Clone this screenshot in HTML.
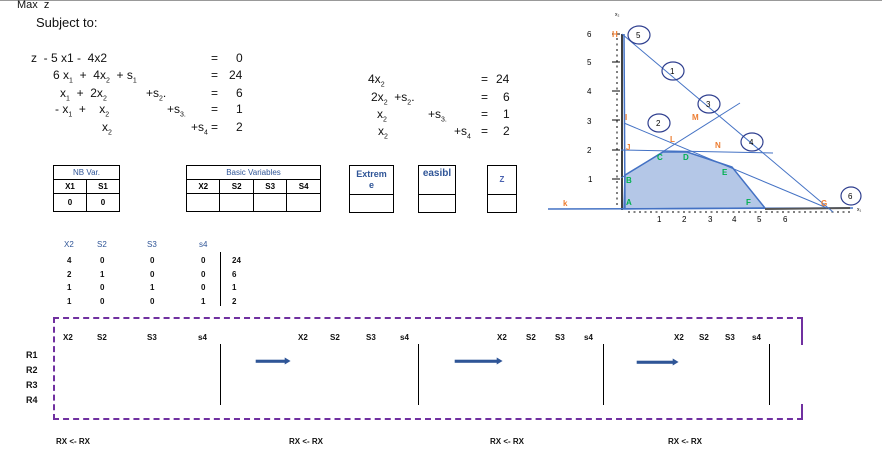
<!DOCTYPE html>
<html><head><meta charset="utf-8"><style>
body{margin:0;width:882px;height:457px;position:relative;background:#fff;font-family:"Liberation Sans",Calibri,sans-serif;overflow:hidden}
.a{position:absolute;white-space:nowrap}
.eq{font-size:12px;color:#111}
.b{font-size:8px;font-weight:bold;color:#111}
.bl{color:#2f5597}
sub{font-size:7px}
table{position:absolute;border-collapse:collapse}
td{border:1px solid #000;text-align:center;font-size:8px;font-weight:bold;padding:0;height:13px;line-height:10px}
</style></head><body>
<div class="a" style="left:0;top:0;width:882px;height:1px;background:#999"></div>
<div class="a eq" style="left:17px;top:1px;font-size:11px;line-height:9px">Max &nbsp;z</div>
<div class="a eq" style="left:36px;top:15px;font-size:13px">Subject to:</div>

<div class="a eq" style="left:31px;top:51px">z &nbsp;- 5 x1 - &nbsp;4x2</div>
<div class="a eq" style="left:53px;top:68px">6 x<sub>1</sub> &nbsp;+ &nbsp;4x<sub>2</sub> &nbsp;+ s<sub>1</sub></div>
<div class="a eq" style="left:60px;top:86px">x<sub>1</sub> &nbsp;+ &nbsp;2x<sub>2</sub></div>
<div class="a eq" style="left:146px;top:86px">+s<sub>2</sub>.</div>
<div class="a eq" style="left:55px;top:102px">- x<sub>1</sub> &nbsp;+ &nbsp;&nbsp;&nbsp;x<sub>2</sub></div>
<div class="a eq" style="left:167px;top:102px">+s<sub>3.</sub></div>
<div class="a eq" style="left:102px;top:120px">x<sub>2</sub></div>
<div class="a eq" style="left:191px;top:120px">+s<sub>4</sub></div>
<div class="a eq" style="left:211px;top:51px">=</div><div class="a eq" style="left:236px;top:51px">0</div>
<div class="a eq" style="left:211px;top:68px">=</div><div class="a eq" style="left:229px;top:68px">24</div>
<div class="a eq" style="left:211px;top:86px">=</div><div class="a eq" style="left:236px;top:86px">6</div>
<div class="a eq" style="left:211px;top:102px">=</div><div class="a eq" style="left:236px;top:102px">1</div>
<div class="a eq" style="left:211px;top:120px">=</div><div class="a eq" style="left:236px;top:120px">2</div>

<div class="a eq" style="left:368px;top:72px">4x<sub>2</sub></div>
<div class="a eq" style="left:371px;top:90px">2x<sub>2</sub> &nbsp;+s<sub>2</sub>.</div>
<div class="a eq" style="left:377px;top:107px">x<sub>2</sub></div>
<div class="a eq" style="left:428px;top:107px">+s<sub>3.</sub></div>
<div class="a eq" style="left:378px;top:124px">x<sub>2</sub></div>
<div class="a eq" style="left:454px;top:124px">+s<sub>4</sub></div>
<div class="a eq" style="left:481px;top:72px">=</div><div class="a eq" style="left:496px;top:72px">24</div>
<div class="a eq" style="left:481px;top:90px">=</div><div class="a eq" style="left:503px;top:90px">6</div>
<div class="a eq" style="left:481px;top:107px">=</div><div class="a eq" style="left:503px;top:107px">1</div>
<div class="a eq" style="left:481px;top:124px">=</div><div class="a eq" style="left:503px;top:124px">2</div>

<table style="left:53px;top:165px;width:67px"><tr><td colspan="2" class="bl" style="font-weight:normal">NB Var.</td></tr><tr><td>X1</td><td>S1</td></tr><tr><td style="height:17px">0</td><td>0</td></tr></table>
<table style="left:186px;top:165px;width:135px"><tr><td colspan="4" class="bl" style="font-weight:normal">Basic Variables</td></tr><tr><td>X2</td><td>S2</td><td>S3</td><td>S4</td></tr><tr><td style="height:17px"></td><td></td><td></td><td></td></tr></table>
<table style="left:349px;top:165px;width:45px"><tr><td class="bl" style="height:28px;font-size:9px;line-height:11px">Extrem<br>e</td></tr><tr><td style="height:17px"></td></tr></table>
<table style="left:418px;top:165px;width:38px"><tr><td class="bl" style="height:28px;font-size:10px;vertical-align:top;line-height:16px">easibl</td></tr><tr><td style="height:17px"></td></tr></table>
<table style="left:487px;top:165px;width:30px"><tr><td class="bl" style="height:28px;font-size:8px;color:#4a62b0">Z</td></tr><tr><td style="height:17px"></td></tr></table>

<div class="a b bl" style="left:64px;top:240px;font-weight:normal">X2</div>
<div class="a b bl" style="left:97px;top:240px;font-weight:normal">S2</div>
<div class="a b bl" style="left:147px;top:240px;font-weight:normal">S3</div>
<div class="a b bl" style="left:199px;top:240px;font-weight:normal">s4</div>
<div class="a b" style="left:67px;top:254px;line-height:13.5px">4<br>2<br>1<br>1</div>
<div class="a b" style="left:100px;top:254px;line-height:13.5px">0<br>1<br>0<br>0</div>
<div class="a b" style="left:150px;top:254px;line-height:13.5px">0<br>0<br>1<br>0</div>
<div class="a b" style="left:201px;top:254px;line-height:13.5px">0<br>0<br>0<br>1</div>
<div class="a b" style="left:232px;top:254px;line-height:13.5px">24<br>6<br>1<br>2</div>
<div class="a" style="left:220px;top:252px;width:1px;height:54px;background:#000"></div>

<div class="a" style="left:53px;top:317px;width:748px;height:99px;border:2px dashed #7030a0;border-right:none"></div>
<div class="a" style="left:801px;top:317px;width:2px;height:28px;background:#7030a0"></div>
<div class="a" style="left:801px;top:404px;width:2px;height:15px;background:#7030a0"></div>

<div class="a b" style="left:63px;top:333px">X2</div><div class="a b" style="left:97px;top:333px">S2</div><div class="a b" style="left:147px;top:333px">S3</div><div class="a b" style="left:198px;top:333px">s4</div>
<div class="a b" style="left:298px;top:333px">X2</div><div class="a b" style="left:330px;top:333px">S2</div><div class="a b" style="left:366px;top:333px">S3</div><div class="a b" style="left:400px;top:333px">s4</div>
<div class="a b" style="left:497px;top:333px">X2</div><div class="a b" style="left:526px;top:333px">S2</div><div class="a b" style="left:555px;top:333px">S3</div><div class="a b" style="left:584px;top:333px">s4</div>
<div class="a b" style="left:674px;top:333px">X2</div><div class="a b" style="left:699px;top:333px">S2</div><div class="a b" style="left:725px;top:333px">S3</div><div class="a b" style="left:752px;top:333px">s4</div>
<div class="a b" style="left:26px;top:348px;font-size:9px;line-height:15px">R1<br>R2<br>R3<br>R4</div>
<div class="a" style="left:220px;top:344px;width:1px;height:61px;background:#000"></div>
<div class="a" style="left:418px;top:344px;width:1px;height:61px;background:#000"></div>
<div class="a" style="left:603px;top:344px;width:1px;height:61px;background:#000"></div>
<div class="a" style="left:769px;top:344px;width:1px;height:61px;background:#000"></div>
<svg class="a" style="left:0;top:0" width="882" height="457">
<g fill="#2f5597" stroke="#2f5597" stroke-width="0.6">
<rect x="256" y="360" width="29" height="2.5"/><polygon points="285,358 290,361 285,364"/>
<rect x="455" y="360" width="42" height="2.5"/><polygon points="497,358 502,361 497,364"/>
<rect x="637" y="361" width="36" height="2.5"/><polygon points="673,359 678,362 673,365"/>
</g></svg>
<div class="a b" style="left:56px;top:437px">RX &lt;- RX</div>
<div class="a b" style="left:289px;top:437px">RX &lt;- RX</div>
<div class="a b" style="left:490px;top:437px">RX &lt;- RX</div>
<div class="a b" style="left:668px;top:437px">RX &lt;- RX</div>

<svg class="a" style="left:0;top:0" width="882" height="457" font-family="Liberation Sans,sans-serif">
<polygon points="624,209 625,175 663,152 687,152 732,167 765,208" fill="#b4c7e7" stroke="#4472c4" stroke-width="1.5"/>
<line x1="622" y1="34" x2="622" y2="210" stroke="#000" stroke-width="1.5"/>
<line x1="624" y1="34" x2="625" y2="209" stroke="#4472c4" stroke-width="1.5"/>
<g stroke="#000" stroke-width="1">
<line x1="612" y1="34" x2="620" y2="34"/><line x1="612" y1="62" x2="620" y2="62"/><line x1="612" y1="91" x2="620" y2="91"/><line x1="612" y1="120" x2="620" y2="120"/><line x1="612" y1="150" x2="620" y2="150"/><line x1="612" y1="179" x2="620" y2="179"/>
</g>
<g stroke="#000" stroke-width="1" stroke-dasharray="2,3.5"><line x1="617" y1="38" x2="617" y2="205"/><line x1="628" y1="212" x2="850" y2="212"/></g>
<line x1="548" y1="209" x2="853" y2="208" stroke="#4472c4" stroke-width="1.5"/>
<line x1="765" y1="209" x2="850" y2="208" stroke="#555" stroke-width="2"/>
<g stroke="#4472c4" stroke-width="1">
<line x1="622" y1="34" x2="833" y2="212"/>
<line x1="624" y1="123" x2="827" y2="208"/>
<line x1="621" y1="178" x2="740" y2="103"/>
<line x1="621" y1="150" x2="773" y2="153"/>
</g>
<g fill="none" stroke="#2f3f8f" stroke-width="1.2">
<ellipse cx="639" cy="35" rx="11" ry="9"/><ellipse cx="673" cy="71" rx="11" ry="9"/><ellipse cx="709" cy="104" rx="11" ry="9"/><ellipse cx="659" cy="123" rx="11" ry="9"/><ellipse cx="752" cy="142" rx="11" ry="9"/><ellipse cx="851" cy="196" rx="10" ry="9"/>
</g>
<g font-size="8" fill="#000">
<text x="636" y="38">5</text><text x="670" y="74">1</text><text x="706" y="107">3</text><text x="656" y="126">2</text><text x="749" y="145">4</text><text x="848" y="199">6</text>
<text x="587" y="37">6</text><text x="587" y="65">5</text><text x="587" y="94">4</text><text x="587" y="124">3</text><text x="587" y="153">2</text><text x="588" y="182">1</text>
<text x="657" y="222">1</text><text x="682" y="222">2</text><text x="708" y="222">3</text><text x="732" y="222">4</text><text x="757" y="222">5</text><text x="783" y="222">6</text>
<text x="615" y="16" font-size="5">x₂</text><text x="857" y="211" font-size="5">x₁</text>
</g>
<g font-size="8" font-weight="bold" fill="#ed7d31">
<text x="612" y="37">H</text><text x="625" y="120">I</text><text x="626" y="150">J</text><text x="692" y="120">M</text><text x="670" y="142">L</text><text x="715" y="148">N</text><text x="563" y="206">k</text><text x="821" y="206">G</text>
</g>
<g font-size="8" font-weight="bold" fill="#00b050">
<text x="626" y="183">B</text><text x="626" y="205">A</text><text x="657" y="160">C</text><text x="683" y="160">D</text><text x="722" y="175">E</text><text x="746" y="205">F</text>
</g>
</svg>
</body></html>
